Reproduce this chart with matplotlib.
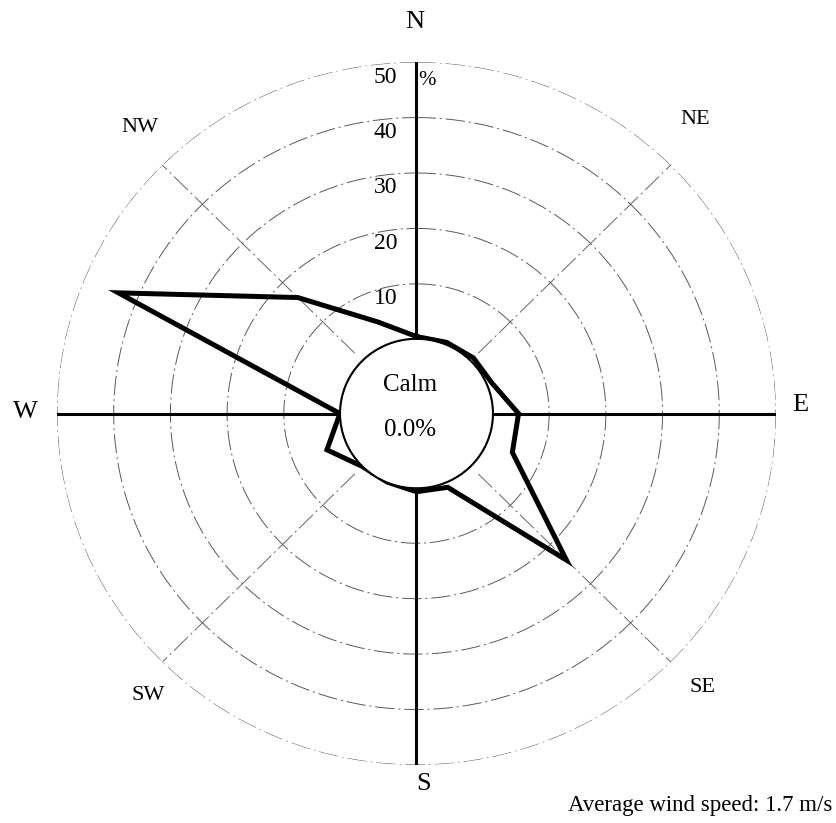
import numpy as np
import matplotlib.pyplot as plt

# wind rose frequencies (%), 16 directions clockwise from N
directions = ["N", "NNE", "NE", "ENE", "E", "ESE", "SE", "SSE",
              "S", "SSW", "SW", "WSW", "W", "WNW", "NW", "NNW"]
freq = [0.5, 0.5, 0.8, 1.0, 4.6, 4.9, 24.0, 1.0,
        0.7, 0.0, 0.1, 3.7, 0.1, 43.5, 16.2, 4.5]
ring_values = [10, 20, 30, 40, 50]
calm_pct = 0.0
avg_speed = 1.7

serif = "Liberation Serif"

fig = plt.figure(figsize=(8.37, 8.23), dpi=100)
ax = fig.add_axes([0.0681, 0.0705, 0.859, 0.854], projection="polar")
ax.set_aspect("auto")
ax.set_theta_zero_location("N")
ax.set_theta_direction(-1)
ax.set_ylim(0, 50)
ax.set_rorigin(-13.4)
ax.spines["polar"].set_visible(False)
ax.grid(False)
ax.set_xticks([])
ax.set_yticks([])
ax.patch.set_alpha(0)

full = np.linspace(0, 2 * np.pi, 400)
dash = (0, (20, 4, 2, 4))

# rings
for v in ring_values:
    ax.plot(full, np.full_like(full, v), color="0.35", lw=0.7,
            linestyle=dash, zorder=1)

# diagonal guides
for a in [45, 135, 225, 315]:
    ax.plot([np.radians(a)] * 2, [2, 50], color="0.4", lw=0.7,
            linestyle=dash, zorder=1)

# main axes N E S W
for a in [0, 90, 180, 270]:
    ax.plot([np.radians(a)] * 2, [0, 50], color="black", lw=2.2, zorder=2)

# calm circle
ax.plot(full, np.zeros_like(full), color="black", lw=2.2, zorder=3)

# rose polygon
theta = np.radians(np.arange(len(freq)) * 22.5)
th = np.append(theta, theta[0])
rr = np.append(freq, freq[0])
ax.plot(th, rr, color="black", lw=3.6, solid_joinstyle="miter", zorder=4)

# ring labels
for v in ring_values:
    ax.annotate(str(v), xy=(0, v), xytext=(-31, -15), textcoords="offset pixels",
                ha="center", va="center", fontsize=17, family=serif)
ax.annotate("%", xy=(0, 50), xytext=(11, -18), textcoords="offset pixels",
            ha="center", va="center", fontsize=15, family=serif)

# centre text
fig.text(410 / 837, 1 - 385 / 823, "Calm", ha="center", va="center",
         fontsize=18, family=serif)
fig.text(410 / 837, 1 - 430 / 823, f"{calm_pct:.1f}%", ha="center", va="center",
         fontsize=18, family=serif)

# compass labels
labels = {"N": (415, 22), "S": (424, 784), "E": (800, 405), "W": (25, 412),
          "NE": (695, 119), "SE": (703, 688), "SW": (148, 696), "NW": (140, 127)}
for name, (px, py) in labels.items():
    fs = 19 if len(name) == 1 else 16
    fig.text(px / 837, 1 - py / 823, name, ha="center", va="center",
             fontsize=fs, family=serif)

fig.text(0.995, 1 - 811 / 823, f"Average wind speed: {avg_speed} m/s",
         ha="right", va="baseline", fontsize=16.5, family=serif)

plt.savefig("out.png", dpi=100)
